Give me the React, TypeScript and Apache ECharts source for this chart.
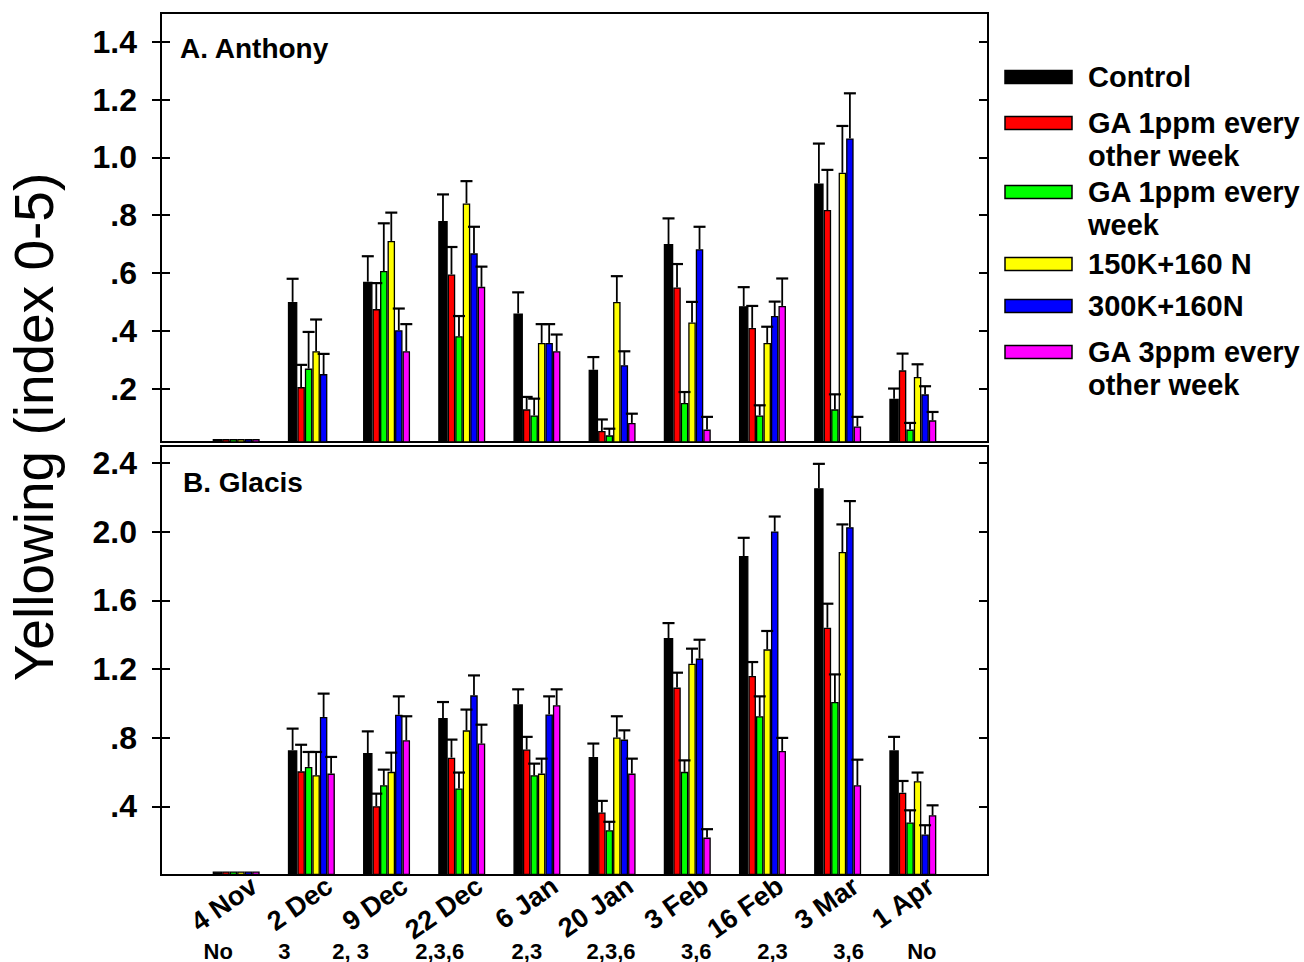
import React, { useEffect, useRef } from "react";
import * as echarts from "echarts";

// ---------------- data ----------------
const categories = ["4 Nov", "2 Dec", "9 Dec", "22 Dec", "6 Jan", "20 Jan", "3 Feb", "16 Feb", "3 Mar", "1 Apr"];
const sigLabels = ["No", "3", "2, 3", "2,3,6", "2,3", "2,3,6", "3,6", "2,3", "3,6", "No"];
const seriesNames = ["Control", "GA 1ppm every\nother week", "GA 1ppm every\nweek", "150K+160 N", "300K+160N", "GA 3ppm every\nother week"];
const seriesColors = ["#000000", "#ff0000", "#00ff00", "#ffff00", "#0000ff", "#ff00ff"];

const topTicks = [0.2, 0.4, 0.6, 0.8, 1.0, 1.2, 1.4];
const bottomTicks = [0.4, 0.8, 1.2, 1.6, 2.0, 2.4];

// A. Anthony
const anthonyControl = [0.025, 0.50, 0.57, 0.78, 0.46, 0.265, 0.70, 0.485, 0.91, 0.165];
const anthonyControlErr = [0, 0.08, 0.088, 0.092, 0.073, 0.044, 0.089, 0.066, 0.138, 0.035];
const anthonyGA1EOW = [0.025, 0.205, 0.475, 0.595, 0.128, 0.053, 0.55, 0.41, 0.818, 0.263];
const anthonyGA1EOWErr = [0, 0.077, 0.09, 0.095, 0.043, 0.04, 0.081, 0.076, 0.139, 0.058];
const anthonyGA1W = [0.025, 0.269, 0.607, 0.381, 0.107, 0.038, 0.15, 0.107, 0.128, 0.058];
const anthonyGA1WErr = [0, 0.127, 0.165, 0.07, 0.058, 0.023, 0.038, 0.035, 0.052, 0.023];
const anthony150K = [0.025, 0.329, 0.711, 0.841, 0.358, 0.50, 0.429, 0.358, 0.947, 0.24];
const anthony150KErr = [0, 0.11, 0.098, 0.077, 0.065, 0.089, 0.071, 0.056, 0.162, 0.044];
const anthony300K = [0.025, 0.25, 0.402, 0.668, 0.358, 0.281, 0.682, 0.451, 1.066, 0.18];
const anthony300KErr = [0, 0.07, 0.075, 0.092, 0.065, 0.048, 0.078, 0.05, 0.156, 0.028];
const anthonyGA3 = [0.025, null, 0.329, 0.552, 0.329, 0.081, 0.058, 0.486, 0.069, 0.09];
const anthonyGA3Err = [0, null, 0.094, 0.07, 0.058, 0.032, 0.044, 0.095, 0.033, 0.029];

// B. Glacis
const glacisControl = [0.02, 0.727, 0.711, 0.915, 0.995, 0.688, 1.381, 1.859, 2.254, 0.727];
const glacisControlErr = [0, 0.126, 0.126, 0.093, 0.087, 0.078, 0.087, 0.106, 0.142, 0.078];
const glacisGA1EOW = [0.02, 0.604, 0.401, 0.684, 0.731, 0.364, 1.092, 1.16, 1.441, 0.48];
const glacisGA1EOWErr = [0, 0.155, 0.073, 0.105, 0.074, 0.068, 0.087, 0.081, 0.14, 0.068];
const glacisGA1W = [0.02, 0.63, 0.523, 0.504, 0.581, 0.261, 0.601, 0.925, 1.008, 0.306];
const glacisGA1WErr = [0, 0.087, 0.091, 0.093, 0.068, 0.049, 0.067, 0.116, 0.161, 0.071];
const glacis150K = [0.02, 0.581, 0.601, 0.843, 0.591, 0.801, 1.231, 1.315, 1.882, 0.546];
const glacis150KErr = [0, 0.136, 0.112, 0.121, 0.087, 0.124, 0.088, 0.107, 0.161, 0.051];
const glacis300K = [0.02, 0.921, 0.934, 1.047, 0.936, 0.789, 1.261, 2.002, 2.027, 0.236];
const glacis300KErr = [0, 0.136, 0.107, 0.116, 0.105, 0.054, 0.11, 0.087, 0.152, 0.054];
const glacisGA3 = [0.02, 0.591, 0.785, 0.766, 0.989, 0.591, 0.218, 0.723, 0.523, 0.348];
const glacisGA3Err = [0, 0.097, 0.14, 0.11, 0.093, 0.087, 0.049, 0.076, 0.149, 0.058];

const anthonyMeans = [anthonyControl, anthonyGA1EOW, anthonyGA1W, anthony150K, anthony300K, anthonyGA3];
const anthonyErrs = [anthonyControlErr, anthonyGA1EOWErr, anthonyGA1WErr, anthony150KErr, anthony300KErr, anthonyGA3Err];
const glacisMeans = [glacisControl, glacisGA1EOW, glacisGA1W, glacis150K, glacis300K, glacisGA3];
const glacisErrs = [glacisControlErr, glacisGA1EOWErr, glacisGA1WErr, glacis150KErr, glacis300KErr, glacisGA3Err];

// ---------------- layout ----------------
const FONT = "'Liberation Sans', Arial, Helvetica, sans-serif";
const GRID_LEFT = 161;
const GRID_W = 827;
const TOP_Y = 13;
const TOP_H = 429;
const BOT_Y = 446;
const BOT_H = 429;
const BAR_W = [9.5, 7.5, 7.5, 7.5, 7.5, 7.5];
const SIG_DX = [-18, -27, -36, -22, -10, -1, 9, 10, 11, 9];
const LEGEND_Y = [77, 123, 192, 264, 306, 352];

const axisData = ["", ...categories, ""];
const pad = (arr: (number | null)[]) => [null, ...arr, null];

const fmt = (v: number) => {
  const s = v.toFixed(1);
  return s.startsWith("0") ? s.slice(1) : s;
};

function barOffset(t: number) {
  const total = BAR_W.reduce((a, b) => a + b, 0);
  let off = -total / 2;
  for (let i = 0; i < t; i++) off += BAR_W[i];
  return off + BAR_W[t] / 2;
}

function buildOption() {
  const grids = [
    { left: GRID_LEFT, top: TOP_Y, width: GRID_W, height: TOP_H, show: true, borderColor: "#000", borderWidth: 2, backgroundColor: "transparent" },
    { left: GRID_LEFT, top: BOT_Y, width: GRID_W, height: BOT_H, show: true, borderColor: "#000", borderWidth: 2, backgroundColor: "transparent" },
    { left: GRID_LEFT + 18, top: BOT_Y, width: GRID_W, height: BOT_H, show: false },
  ];

  const catAxis = (gridIndex: number, showLabel: boolean) => ({
    type: "category",
    gridIndex,
    data: axisData,
    boundaryGap: false,
    axisLine: { show: false },
    axisTick: { show: false },
    splitLine: { show: false },
    axisLabel: showLabel
      ? { show: true, interval: 0, rotate: 35, margin: 8, color: "#000", fontSize: 27, fontWeight: "bold", fontFamily: FONT }
      : { show: false },
  });

  const valAxes = (gridIndex: number, min: number, max: number, ticks: number[]) => [
    {
      type: "value", gridIndex, min, max, position: "left",
      axisLine: { show: true, lineStyle: { color: "#000", width: 2 } },
      axisTick: { show: true, inside: false, length: 9, customValues: ticks, lineStyle: { color: "#000", width: 2 } },
      axisLabel: { show: true, customValues: ticks, formatter: fmt, margin: 24, color: "#000", fontSize: 32, fontWeight: "bold", fontFamily: FONT },
      splitLine: { show: false },
    },
    {
      type: "value", gridIndex, min, max, position: "left",
      axisLine: { show: false },
      axisTick: { show: true, inside: true, length: 9, customValues: ticks, lineStyle: { color: "#000", width: 2 } },
      axisLabel: { show: false },
      splitLine: { show: false },
    },
    {
      type: "value", gridIndex, min, max, position: "right",
      axisLine: { show: false },
      axisTick: { show: true, inside: true, length: 9, customValues: ticks, lineStyle: { color: "#000", width: 2 } },
      axisLabel: { show: false },
      splitLine: { show: false },
    },
  ];

  const series: any[] = [];
  const panels = [
    { means: anthonyMeans, errs: anthonyErrs, x: 0, y: 0 },
    { means: glacisMeans, errs: glacisErrs, x: 1, y: 3 },
  ];
  panels.forEach((p) => {
    p.means.forEach((vals, t) => {
      series.push({
        type: "bar",
        name: seriesNames[t],
        xAxisIndex: p.x,
        yAxisIndex: p.y,
        data: pad(vals),
        barWidth: BAR_W[t],
        barGap: "0%",
        itemStyle: { color: seriesColors[t], borderColor: "#000", borderWidth: 1.3 },
        z: 2,
      });
    });
    p.means.forEach((vals, t) => {
      const errs = p.errs[t];
      const items: number[][] = [];
      vals.forEach((v, i) => {
        const e = errs[i];
        if (v != null && e != null && e > 0) items.push([i + 1, v, e]);
      });
      const off = barOffset(t);
      series.push({
        type: "custom",
        name: seriesNames[t] + " SE",
        xAxisIndex: p.x,
        yAxisIndex: p.y,
        data: items,
        z: 5,
        renderItem: (params: any, api: any) => {
          const x = api.value(0);
          const v = api.value(1);
          const e = api.value(2);
          const p0 = api.coord([x, v]);
          const p1 = api.coord([x, v + e]);
          const xc = p0[0] + off;
          return {
            type: "group",
            children: [
              { type: "line", shape: { x1: xc, y1: p0[1], x2: xc, y2: p1[1] }, style: { stroke: "#000", lineWidth: 1.8 } },
              { type: "line", shape: { x1: xc - 6, y1: p1[1], x2: xc + 6, y2: p1[1] }, style: { stroke: "#000", lineWidth: 2.2 } },
            ],
          };
        },
      });
    });
  });

  const graphic: any[] = [];
  graphic.push({
    type: "text", x: 34, y: 427, rotation: Math.PI / 2,
    style: { text: "Yellowing (index 0-5)", fontSize: 55, fontFamily: FONT, fill: "#000", align: "center", verticalAlign: "middle" },
  });
  graphic.push({
    type: "text", x: 180, y: 48,
    style: { text: "A. Anthony", fontSize: 28, fontWeight: "bold", fontFamily: FONT, fill: "#000", align: "left", verticalAlign: "middle" },
  });
  graphic.push({
    type: "text", x: 183, y: 482,
    style: { text: "B. Glacis", fontSize: 28, fontWeight: "bold", fontFamily: FONT, fill: "#000", align: "left", verticalAlign: "middle" },
  });
  seriesNames.forEach((name, t) => {
    const cy = LEGEND_Y[t];
    graphic.push({
      type: "rect", shape: { x: 1005, y: cy - 6.5, width: 67, height: 13 },
      style: { fill: seriesColors[t], stroke: "#000", lineWidth: 1.5 },
    });
    graphic.push({
      type: "text", x: 1088, y: cy - 16.5,
      style: { text: name, fontSize: 29, fontWeight: "bold", fontFamily: FONT, fill: "#000", align: "left", verticalAlign: "top", lineHeight: 33 },
    });
  });
  sigLabels.forEach((s, i) => {
    graphic.push({
      type: "text", x: GRID_LEFT + ((i + 1) * GRID_W) / 11 + SIG_DX[i], y: 951,
      style: { text: s, fontSize: 22, fontWeight: "bold", fontFamily: FONT, fill: "#000", align: "center", verticalAlign: "middle" },
    });
  });

  return {
    animation: false,
    backgroundColor: "#ffffff",
    grid: grids,
    xAxis: [catAxis(0, false), catAxis(1, false), catAxis(2, true)],
    yAxis: [
      ...valAxes(0, 0.015, 1.5, topTicks),
      ...valAxes(1, 0, 2.5, bottomTicks),
      { type: "value", gridIndex: 2, show: false },
    ],
    series,
    graphic,
  };
}

export default function App() {
  const ref = useRef<HTMLDivElement>(null);
  useEffect(() => {
    document.body.style.margin = "0";
    if (!ref.current) return;
    const chart = echarts.init(ref.current, undefined, { renderer: "svg" });
    chart.setOption(buildOption() as any);
    return () => chart.dispose();
  }, []);
  return <div ref={ref} style={{ width: 1304, height: 962, position: "absolute", left: 0, top: 0 }} />;
}
